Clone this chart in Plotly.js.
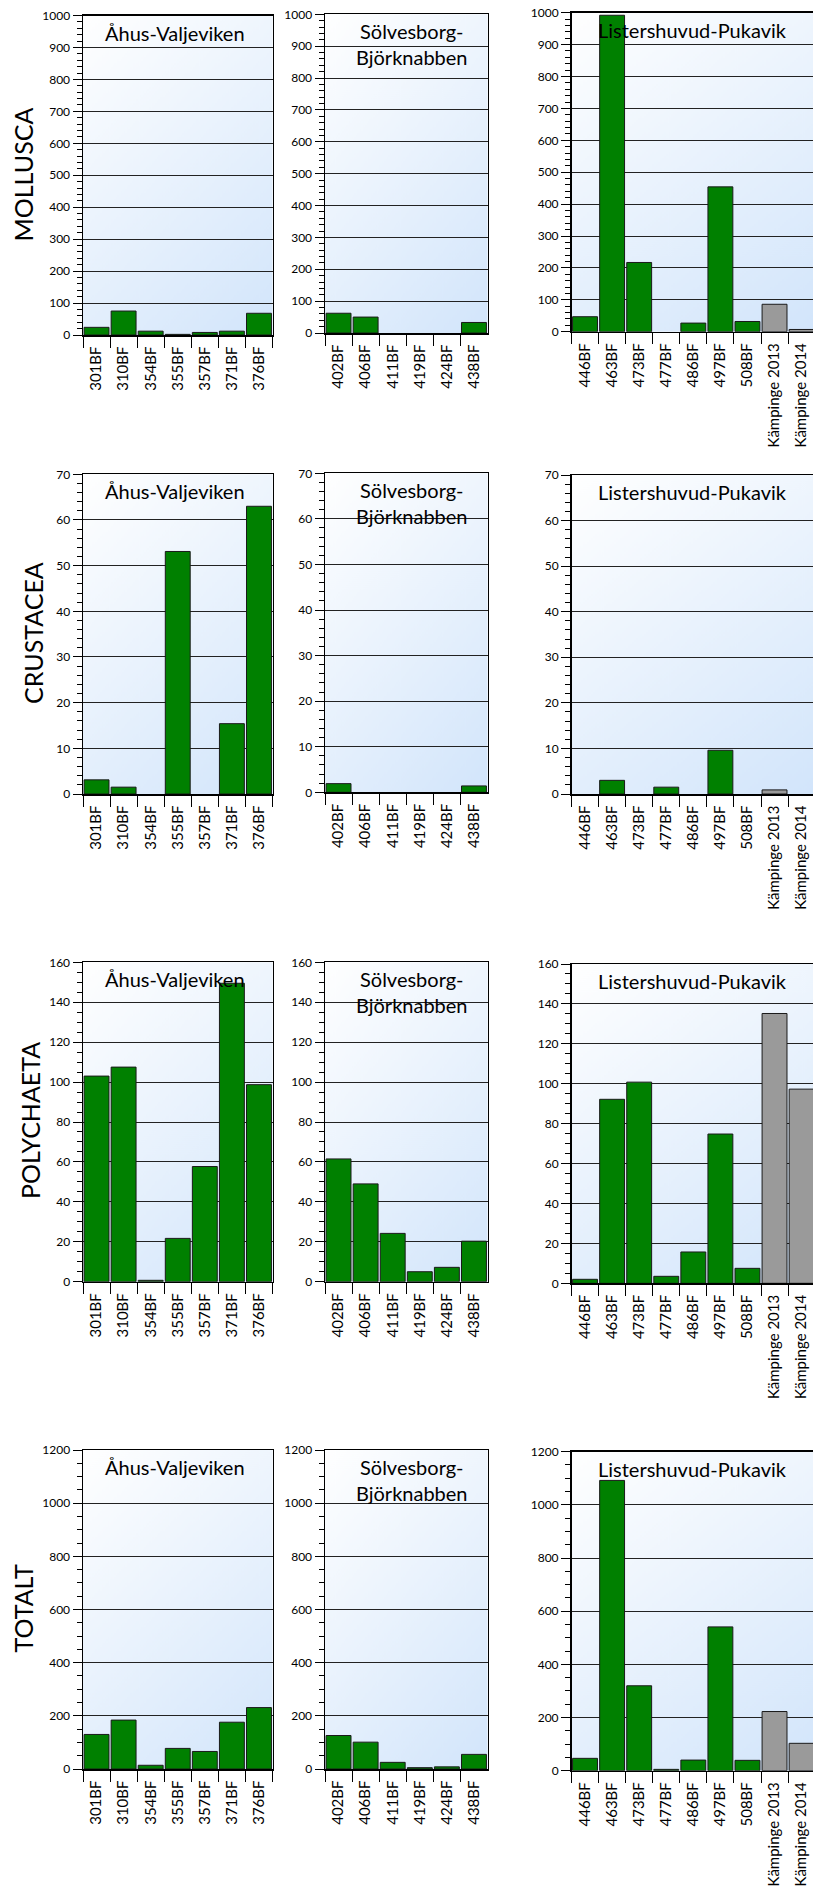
<!DOCTYPE html>
<html><head><meta charset="utf-8">
<script src="https://cdn.plot.ly/plotly-3.0.1.min.js"></script>
<style>html,body{margin:0;padding:0;background:#fff;overflow:hidden}</style>
</head><body><div id="chart" style="width:813px;height:1897px"></div>
<script>
// ---------- data ----------
const rowLabels = ['MOLLUSCA', 'CRUSTACEA', 'POLYCHAETA', 'TOTALT'];
const areaTitles = ['Åhus-Valjeviken', 'Sölvesborg-<br>Björknabben', 'Listershuvud-Pukavik'];

const sitesAhus = ['301BF', '310BF', '354BF', '355BF', '357BF', '371BF', '376BF'];
const sitesSolv = ['402BF', '406BF', '411BF', '419BF', '424BF', '438BF'];
const sitesList = ['446BF', '463BF', '473BF', '477BF', '486BF', '497BF', '508BF', 'Kämpinge 2013', 'Kämpinge 2014'];
const kindList = ['site', 'site', 'site', 'site', 'site', 'site', 'site', 'reference', 'reference'];

const molluscaAhus = [24, 75, 12, 2, 8, 12, 68];
const molluscaSolv = [62, 50, 0, 0, 0, 33];
const molluscaList = [47, 992, 217, 0, 27, 454, 32, 86, 7];

const crustaceaAhus = [3.1, 1.5, 0, 53.1, 0, 15.4, 63.0];
const crustaceaSolv = [1.9, 0, 0, 0, 0, 1.4];
const crustaceaList = [0, 3.0, 0, 1.5, 0, 9.6, 0, 0.9, 0];

const polychaetaAhus = [103, 107.5, 0.7, 21.7, 57.7, 149.5, 98.7];
const polychaetaSolv = [61.5, 49, 24.2, 5, 7.2, 20.3];
const polychaetaList = [2, 92.2, 100.8, 3.5, 15.7, 74.8, 7.5, 135.2, 97.3];

const totaltAhus = [130, 184, 14, 77.5, 66, 176, 231];
const totaltSolv = [126, 101, 25, 5, 8, 55];
const totaltList = [46.5, 1092, 319.5, 5, 40, 541, 39, 222.6, 103];

const yMax = [1000, 70, 160, 1200];
const yDtick = [100, 10, 20, 200];
const yMinorDtick = [20, 2, 5, 50];

// ---------- styling / geometry ----------
const W = 813, H = 1897;
const GREEN = '#008000', GREY = '#9a9a9a';
const FONT = 'Lato, "Open Sans", sans-serif';
const colX = [[83, 272.5], [325, 487.5], [571.5, 813]];
const rowY = [
  [[15.5, 335], [14.3, 333], [12.7, 331.7]],
  [[474.3, 794], [473.3, 792.3], [475, 794]],
  [[962.3, 1281.7], [962.3, 1281.7], [964, 1283.3]],
  [[1450, 1769], [1450, 1769], [1451.7, 1770.7]]
];
const rowLabelPos = [[22.5, 175], [33, 633], [30, 1121], [22.5, 1608]];
const catW = (colX[0][1] - colX[0][0]) / sitesAhus.length;

const px = v => v / W;
const py = v => 1 - v / H;

const valuesByRow = [
  [molluscaAhus, molluscaSolv, molluscaList],
  [crustaceaAhus, crustaceaSolv, crustaceaList],
  [polychaetaAhus, polychaetaSolv, polychaetaList],
  [totaltAhus, totaltSolv, totaltList]
];
const catsByCol = [sitesAhus, sitesSolv, sitesList];

// gradient background image
function gradientURL() {
  const cv = document.createElement('canvas');
  cv.width = 240; cv.height = 320;
  const ctx = cv.getContext('2d');
  const g = ctx.createLinearGradient(0, 0, 240, 320);
  g.addColorStop(0, '#ffffff');
  g.addColorStop(1, '#d2e5fb');
  ctx.fillStyle = g;
  ctx.fillRect(0, 0, 240, 320);
  return cv.toDataURL('image/png');
}
const grad = gradientURL();

const traces = [];
const layout = {
  width: W, height: H,
  margin: {l: 0, r: 0, t: 0, b: 0},
  paper_bgcolor: '#ffffff',
  plot_bgcolor: 'rgba(0,0,0,0)',
  showlegend: false,
  bargap: 0.08,
  font: {family: FONT, color: '#000'},
  annotations: [],
  images: []
};

for (let r = 0; r < 4; r++) {
  for (let c = 0; c < 3; c++) {
    const idx = r * 3 + c + 1;
    const xa = 'x' + idx, ya = 'y' + idx;
    const cats = catsByCol[c];
    const vals = valuesByRow[r][c];
    const colors = c === 2 ? kindList.map(k => k === 'site' ? GREEN : GREY) : cats.map(() => GREEN);
    traces.push({
      type: 'bar', x: cats, y: vals, xaxis: xa, yaxis: ya,
      marker: {color: colors, line: {color: '#1a1a1a', width: vals.map(v => v > 0 ? 1 : 0)}},
      hoverinfo: 'skip'
    });
    const [top, zero] = rowY[r][c];
    const x0 = colX[c][0];
    const x1 = c === 2 ? x0 + catW * cats.length : colX[c][1];
    const xr = c === 2 ? [-0.5, -0.5 + (W - x0) / catW] : [-0.5, cats.length - 0.5];
    layout['xaxis' + idx] = {
      domain: [px(x0), Math.min(1, px(x1))],
      anchor: ya, type: 'category', range: xr,
      showline: true, linecolor: '#000', linewidth: 1.5, mirror: true,
      ticks: 'outside', tickson: 'boundaries', ticklen: 11, tickwidth: 1, tickcolor: '#000',
      tickangle: -90, tickfont: {family: FONT, size: 15, color: '#000'},
      ticklabelstandoff: 4,
      showgrid: false, zeroline: false, fixedrange: true
    };
    layout['yaxis' + idx] = {
      domain: [py(zero), py(top)],
      anchor: xa, range: [0, yMax[r]], tick0: 0, dtick: yDtick[r],
      showline: true, linecolor: '#000', linewidth: 1.5, mirror: c !== 2,
      ticks: 'outside', ticklen: 9, tickwidth: 1, tickcolor: '#000',
      minor: {ticks: 'outside', ticklen: 5, tickwidth: 1, tickcolor: '#000', dtick: yMinorDtick[r], showgrid: false},
      showgrid: true, gridcolor: '#222', gridwidth: 1, zeroline: false,
      tickfont: {family: FONT, size: 12, color: '#000'}, fixedrange: true
    };
    layout.images.push({
      source: grad, xref: 'paper', yref: 'paper',
      x: px(x0), y: py(top), sizex: px(x1) - px(x0), sizey: py(top) - py(zero),
      xanchor: 'left', yanchor: 'top', sizing: 'stretch', layer: 'below'
    });
    const tx = c === 2 ? 692 : (c === 0 ? 175 : 412);
    layout.annotations.push({
      text: areaTitles[c], xref: 'paper', yref: 'paper',
      x: px(tx), y: py(top + 3), xanchor: 'center', yanchor: 'top',
      showarrow: false, font: {family: FONT, size: 20, color: '#000'}
    });
  }
  layout.annotations.push({
    text: rowLabels[r], xref: 'paper', yref: 'paper',
    x: px(rowLabelPos[r][0]), y: py(rowLabelPos[r][1]), xanchor: 'center', yanchor: 'middle',
    textangle: -90, showarrow: false, font: {family: FONT, size: 25, color: '#000'}
  });
}

Plotly.newPlot('chart', traces, layout, {staticPlot: true, displayModeBar: false});
</script>
</body></html>
